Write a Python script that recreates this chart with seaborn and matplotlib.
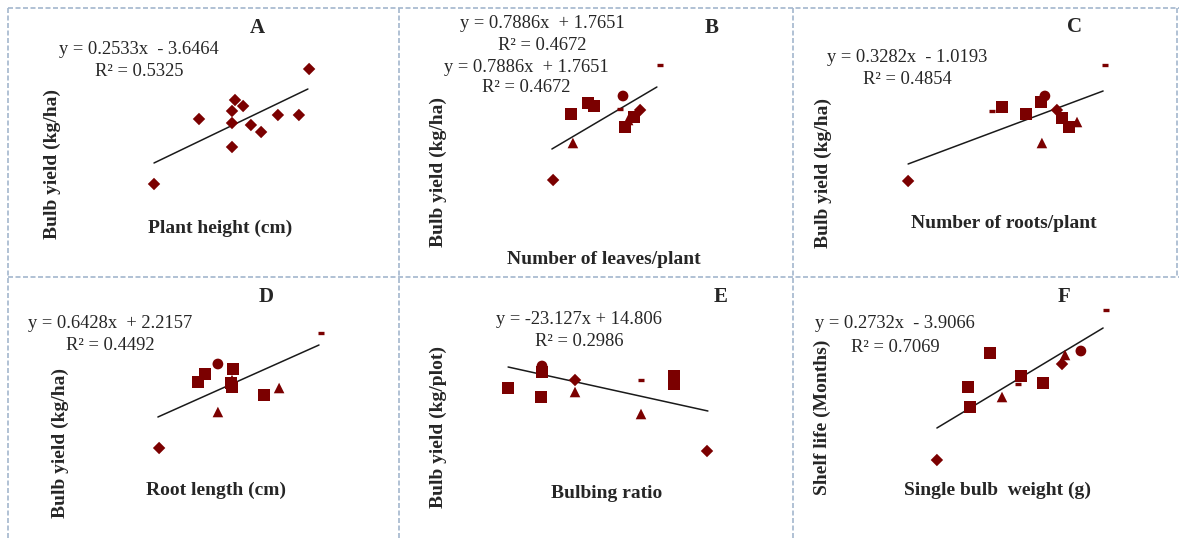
import numpy as np
import pandas as pd
import matplotlib.pyplot as plt
import seaborn as sns
from matplotlib.lines import Line2D

sns.set_theme(style='white')
plt.rcParams['font.family'] = ['Liberation Serif', 'DejaVu Serif']

W, H = 1179, 540
RED = '#7b0000'
BORDER = '#a3b6cd'

# point values (relative units, 0-100 on both axes)
a_x = [18, 33, 44, 44, 45, 47.7, 50.3, 53.7, 44, 59.3, 66.3, 69.7]
a_y = [23, 55.5, 53.5, 59.5, 65, 62, 52.5, 49, 41.5, 57.5, 57.5, 80.5]
a_kind = ['diamond'] * 12
a_trend_x = [18, 69.3]
a_trend_y = [33.5, 70.5]

b_x = [20.7, 27.3, 26.7, 32.3, 34.3, 44, 43, 44.7, 47.7, 45.7, 49.7, 56.3]
b_y = [25, 43.5, 58, 63.5, 62, 67, 60.5, 51.5, 56.5, 55, 60, 82.5]
b_kind = ['diamond', 'triangle', 'square', 'square', 'square', 'circle',
          'dash', 'square', 'square', 'triangle', 'diamond', 'dash']
b_trend_x = [20.3, 55.3]
b_trend_y = [40.5, 71.5]

c_x = [7.7, 35.7, 39, 47, 52, 53.3, 52.3, 57.3, 59, 61.3, 64, 73.3]
c_y = [24.5, 59.5, 61.5, 58, 64, 67, 43.5, 60, 56, 51.5, 54, 82.5]
c_kind = ['diamond', 'dash', 'square', 'square', 'square', 'circle',
          'triangle', 'diamond', 'square', 'square', 'triangle', 'dash']
c_trend_x = [7.7, 72.7]
c_trend_y = [33, 69.5]

d_x = [19.7, 39.3, 39.3, 35, 32.7, 44.3, 44, 44, 43.7, 54.7, 59.7, 73.7]
d_y = [25.5, 43.5, 67.5, 62.5, 58.5, 65, 59.5, 56, 58, 52, 55.5, 83]
d_kind = ['diamond', 'triangle', 'circle', 'square', 'square', 'square',
          'triangle', 'square', 'square', 'square', 'triangle', 'dash']
d_trend_x = [19.3, 73]
d_trend_y = [41, 77]

e_x = [5.7, 16.7, 17, 17, 28, 28, 50, 50, 61, 61, 72]
e_y = [55.5, 51, 63.5, 66.5, 59.5, 53.5, 59.5, 42.5, 61.5, 57.5, 24]
e_kind = ['square', 'square', 'square', 'circle', 'diamond', 'triangle',
          'dash', 'triangle', 'square', 'square', 'diamond']
e_trend_x = [5.7, 72.3]
e_trend_y = [66, 44]

f_x = [17.3, 28.3, 27.7, 35, 39, 44.3, 45.3, 52.7, 59, 60, 65.3, 73.7]
f_y = [19.5, 46, 56, 73, 51, 57.5, 61.5, 58, 67.5, 72, 74, 94.5]
f_kind = ['diamond', 'square', 'square', 'square', 'triangle', 'dash',
          'square', 'square', 'diamond', 'triangle', 'circle', 'dash']
f_trend_x = [17.3, 72.7]
f_trend_y = [35.5, 85.5]

letters = ['A', 'B', 'C', 'D', 'E', 'F']
x_labels = ['Plant height (cm)', 'Number of leaves/plant', 'Number of roots/plant',
            'Root length (cm)', 'Bulbing ratio', 'Single bulb  weight (g)']
y_labels = ['Bulb yield (kg/ha)', 'Bulb yield (kg/ha)', 'Bulb yield (kg/ha)',
            'Bulb yield (kg/ha)', 'Bulb yield (kg/plot)', 'Shelf life (Months)']
equations = [
    ['y = 0.2533x  - 3.6464', 'R² = 0.5325'],
    ['y = 0.7886x  + 1.7651', 'R² = 0.4672', 'y = 0.7886x  + 1.7651', 'R² = 0.4672'],
    ['y = 0.3282x  - 1.0193', 'R² = 0.4854'],
    ['y = 0.6428x  + 2.2157', 'R² = 0.4492'],
    ['y = -23.127x + 14.806', 'R² = 0.2986'],
    ['y = 0.2732x  - 3.9066', 'R² = 0.7069'],
]

panels = [
    (a_x, a_y, a_kind, a_trend_x, a_trend_y),
    (b_x, b_y, b_kind, b_trend_x, b_trend_y),
    (c_x, c_y, c_kind, c_trend_x, c_trend_y),
    (d_x, d_y, d_kind, d_trend_x, d_trend_y),
    (e_x, e_y, e_kind, e_trend_x, e_trend_y),
    (f_x, f_y, f_kind, f_trend_x, f_trend_y),
]

# layout, in pixels of the 1179x540 image
box_left = [100, 491, 885, 100, 491, 885]
box_bottom = [230, 230, 230, 499, 499, 499]
letter_pos = [(257, 28), (712, 28), (1074, 27), (266, 297), (721, 297), (1064, 297)]
xlabel_pos = [(220, 228), (604, 259), (1004, 223), (216, 490), (607, 493), (998, 490)]
ylabel_pos = [(52, 164), (438, 172), (823, 173), (60, 443), (438, 427), (822, 417)]
eq_pos = [
    [(139, 49), (139, 72)],
    [(542, 23), (542, 46), (526, 67), (526, 88)],
    [(907, 57), (907, 79)],
    [(110, 323), (110, 346)],
    [(579, 320), (579, 342)],
    [(895, 323), (895, 347)],
]

MARKERS = {'diamond': 'D', 'square': 's', 'triangle': '^', 'circle': 'o'}
SIZES = {'diamond': 40, 'square': 72, 'triangle': 58, 'circle': 60}

fig = plt.figure(figsize=(W / 100, H / 100), dpi=100)


def fx(x):
    return x / W


def fy(y):
    return 1 - y / H


for i, (xs, ys, kinds, tx, ty) in enumerate(panels):
    ax = fig.add_axes([fx(box_left[i]), fy(box_bottom[i]), 300 / W, 200 / H])
    df = pd.DataFrame({'x': xs, 'y': ys, 'kind': kinds})
    filled = df[df['kind'] != 'dash']
    dash = df[df['kind'] == 'dash']
    sns.lineplot(x=tx, y=ty, color='#1a1a1a', linewidth=1.1, ax=ax)
    sns.scatterplot(data=filled, x='x', y='y', style='kind', size='kind',
                    markers=MARKERS, sizes=SIZES, color=RED, edgecolor=RED,
                    linewidth=0, legend=False, ax=ax, zorder=3)
    if len(dash):
        sns.scatterplot(data=dash, x='x', y='y', marker='_', s=22, color=RED,
                        linewidth=2.4, legend=False, ax=ax, zorder=3)
    ax.set_xlim(0, 100)
    ax.set_ylim(0, 100)
    ax.set_axis_off()

    fig.text(fx(letter_pos[i][0]), fy(letter_pos[i][1]), letters[i], fontsize=15,
             fontweight='bold', ha='center', va='center')
    fig.text(fx(xlabel_pos[i][0]), fy(xlabel_pos[i][1]), x_labels[i], fontsize=14,
             fontweight='bold', ha='center', va='center')
    fig.text(fx(ylabel_pos[i][0]), fy(ylabel_pos[i][1]), y_labels[i], fontsize=14,
             fontweight='bold', ha='center', va='center', rotation=90)
    for txt, (ex, ey) in zip(equations[i], eq_pos[i]):
        fig.text(fx(ex), fy(ey), txt, fontsize=13.3, ha='center', va='center')

# dashed frame around the panels
frame = [
    ([8, 1179], [8, 8]), ([8, 1179], [277, 277]),
    ([8, 8], [8, 540]), ([399, 399], [8, 540]), ([793, 793], [8, 540]),
    ([1177, 1177], [8, 277]),
]
for lx, ly in frame:
    fig.add_artist(Line2D([fx(v) for v in lx], [fy(v) for v in ly], color=BORDER,
                          linewidth=1.2, linestyle=(0, (3, 1.5))))

fig.savefig('out.png', dpi=100, facecolor='white')
